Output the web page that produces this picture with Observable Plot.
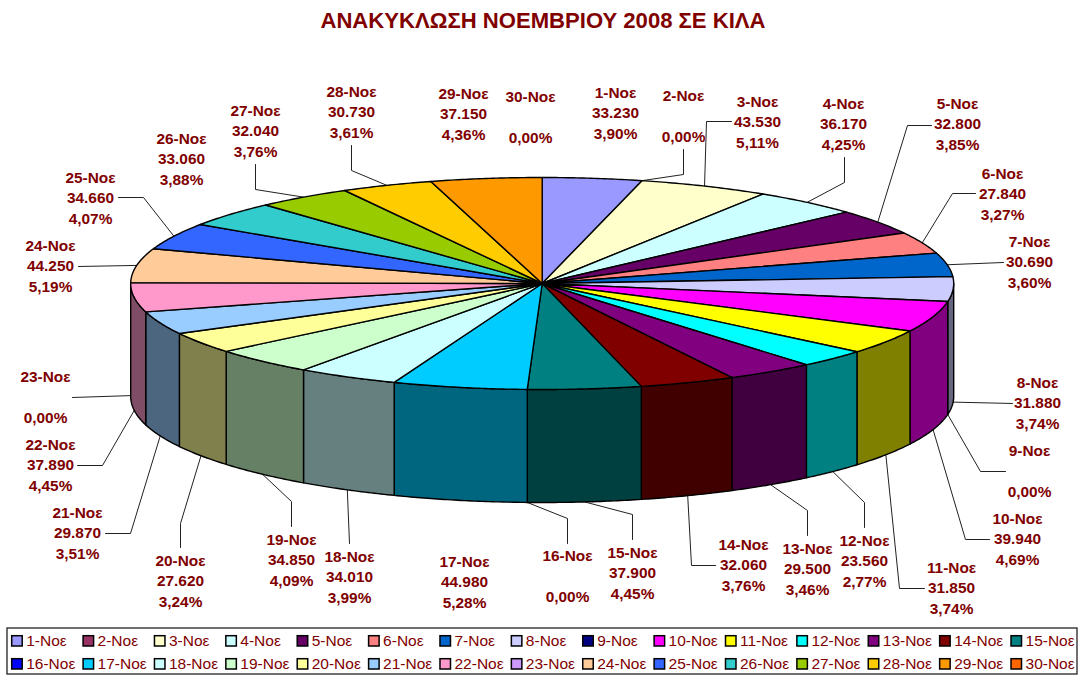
<!DOCTYPE html>
<html>
<head>
<meta charset="utf-8">
<script src="https://cdn.jsdelivr.net/npm/d3@7"></script>
<script src="https://cdn.jsdelivr.net/npm/@observablehq/plot@0.6"></script>
<style>html,body{margin:0;padding:0;background:#fff}</style>
</head>
<body>
<div id="chart"></div>
<script>
const chartTitle = "ΑΝΑΚΥΚΛΩΣΗ ΝΟΕΜΒΡΙΟΥ 2008 ΣΕ ΚΙΛΑ";
const days = ["1-Νοε","2-Νοε","3-Νοε","4-Νοε","5-Νοε","6-Νοε","7-Νοε","8-Νοε","9-Νοε","10-Νοε","11-Νοε","12-Νοε","13-Νοε","14-Νοε","15-Νοε","16-Νοε","17-Νοε","18-Νοε","19-Νοε","20-Νοε","21-Νοε","22-Νοε","23-Νοε","24-Νοε","25-Νοε","26-Νοε","27-Νοε","28-Νοε","29-Νοε","30-Νοε"];
const kilos = [33230,0,43530,36170,32800,27840,30690,31880,0,39940,31850,23560,29500,32060,37900,0,44980,34010,34850,27620,29870,37890,0,44250,34660,33060,32040,30730,37150,0];
const colors = ["#9999FF","#993366","#FFFFCC","#CCFFFF","#660066","#FF8080","#0066CC","#CCCCFF","#000080","#FF00FF","#FFFF00","#00FFFF","#800080","#800000","#008080","#0000FF","#00CCFF","#CCFFFF","#CCFFCC","#FFFF99","#99CCFF","#FF99CC","#CC99FF","#FFCC99","#3366FF","#33CCCC","#99CC00","#FFCC00","#FF9900","#FF6600"];

// Callout layout (label centre, then leader start/elbow), by day index
const labelX = [615,683,757,843,957,1002,1029,1037,1029,1017,951,864,807,743,632,567,464,349,291,180,77,50,45,50,90,181,255,351,463,530];
const labelY = [113,116,122,124,124,194,262,403,471,539,588,561,569,565,573,576,582,577,560,581,533,465,397,266,198,159,131,112,114,117];
const leaderPath = [
  null, [[683,149],[683,174]], [[731,121],[706,121]], [[844,157],[844,182]], [[931,125],[907,125]],
  [[975,193],[952,193]], [[1003,262]], [[1012,403]], [[1005,471],[980,471]], [[989,539],[965,539]],
  [[924,588],[899,588]], [[864,527],[864,502]], [[807,535],[807,510]], [[715,565],[691,565]], [[632,539],[632,514]],
  [[567,543],[567,518]], null, [[349,543]], [[291,526],[291,501]], [[180,547],[180,523]],
  [[105,533],[130,533]], [[77,465],[102,465]], [[72,397]], [[78,266]], [[118,197],[143,197]],
  null, [[255,164],[255,189]], [[351,145],[351,170]], null, null
];

const W = 1083, H = 675;
const cx = 541.7, cy = 283, rx = 411.5, ry = 106, depth = 113;
const total = d3.sum(kilos);
const dark = c => { const k = d3.rgb(c); return d3.rgb(k.r / 2, k.g / 2, k.b / 2).formatHex(); };
const rim = deg => { const a = deg * Math.PI / 180; return [cx + rx * Math.sin(a), cy - ry * Math.cos(a)]; };

let run = 0;
const slices = kilos.map((v, i) => {
  const start = run / total * 360; run += v; const end = run / total * 360;
  return {i, day: days[i], v, color: colors[i], start, end, mid: (start + end) / 2};
});

const arcAngles = (a, b) => { const n = Math.max(1, Math.ceil((b - a) / 0.5)); return d3.range(n + 1).map(k => a + (b - a) * k / n); };

// Top faces
const topPts = slices.filter(s => s.v > 0).flatMap(s => {
  const pts = [[cx, cy], ...arcAngles(s.start, s.end).map(rim), [cx, cy]];
  return pts.map(([x, y]) => ({x, y, id: s.i, fill: s.color}));
});
// Side wall: the visible front half of the rim
const sidePts = slices.filter(s => s.v > 0 && s.end > 90 && s.start < 270).flatMap(s => {
  const upper = arcAngles(Math.max(s.start, 90), Math.min(s.end, 270)).map(rim);
  const lower = upper.slice().reverse().map(([x, y]) => [x, y + depth]);
  const pts = [...upper, ...lower, upper[0]];
  return pts.map(([x, y]) => ({x, y, id: s.i, fill: dark(s.color)}));
});
// Leaders end on the rim at the middle of their slice
const leaderPts = slices.filter(s => leaderPath[s.i]).flatMap(s => {
  const [x, y] = rim(s.mid);
  const front = s.mid > 90 && s.mid < 272;
  const pts = [...leaderPath[s.i], [x, front ? y + depth : y]];
  return pts.map(([px, py]) => ({x: px, y: py, id: s.i}));
});

const fmtKg = v => d3.format(",")(v).replace(/,/g, ".");
const fmtPct = v => (v / total * 100).toFixed(2).replace(".", ",") + "%";
const labelLines = slices.flatMap(s => {
  const out = [{x: labelX[s.i], y: labelY[s.i] - 20.3, t: s.day}];
  if (s.v > 0) out.push({x: labelX[s.i], y: labelY[s.i], t: fmtKg(s.v)});
  out.push({x: labelX[s.i], y: labelY[s.i] + 20.3, t: fmtPct(s.v)});
  return out;
});

// Legend: two rows of fifteen
const legendItems = slices.map(s => {
  const col = s.i % 15, row = Math.floor(s.i / 15);
  const x = 11.7 + col * 71.38, y = 640.7 + row * 23;
  return {x, y, day: s.day, color: s.color};
});

const red = "#800000", sans = "'Liberation Sans', Arial, sans-serif";
const plot = Plot.plot({
  width: W, height: H, margin: 0,
  x: {domain: [0, W], range: [0, W], axis: null},
  y: {domain: [0, H], range: [0, H], axis: null},
  color: {type: "identity"},
  style: {background: "#fff", fontFamily: sans},
  marks: [
    Plot.text([chartTitle], {frameAnchor: "top", dy: 20, dx: 1, text: d => d, fontSize: 22.1, fontWeight: "bold", fill: red, lineAnchor: "middle"}),
    Plot.line(leaderPts, {x: "x", y: "y", z: "id", stroke: "#222", strokeWidth: 1, curve: "linear"}),
    Plot.line(sidePts, {x: "x", y: "y", z: "id", fill: "fill", stroke: "#000", strokeWidth: 1.4, curve: "linear"}),
    Plot.line(topPts, {x: "x", y: "y", z: "id", fill: "fill", stroke: "#000", strokeWidth: 1.4, curve: "linear"}),
    Plot.text(labelLines, {x: "x", y: "y", text: "t", fontSize: 15.4, fontWeight: "bold", fill: red, textAnchor: "middle"}),
    Plot.rect([{x1: 7, x2: 1077, y1: 628, y2: 674}], {x1: "x1", x2: "x2", y1: "y1", y2: "y2", fill: "#fff", stroke: "#222", strokeWidth: 1.3}),
    Plot.rect(legendItems, {x1: d => d.x, x2: d => d.x + 10.5, y1: d => d.y - 5, y2: d => d.y + 5.3, fill: "color", stroke: "#000", strokeWidth: 1.5}),
    Plot.text(legendItems, {x: d => d.x + 14, y: "y", text: "day", fontSize: 15.5, fill: red, textAnchor: "start"})
  ]
});
document.getElementById("chart").appendChild(plot);
</script>
</body>
</html>
